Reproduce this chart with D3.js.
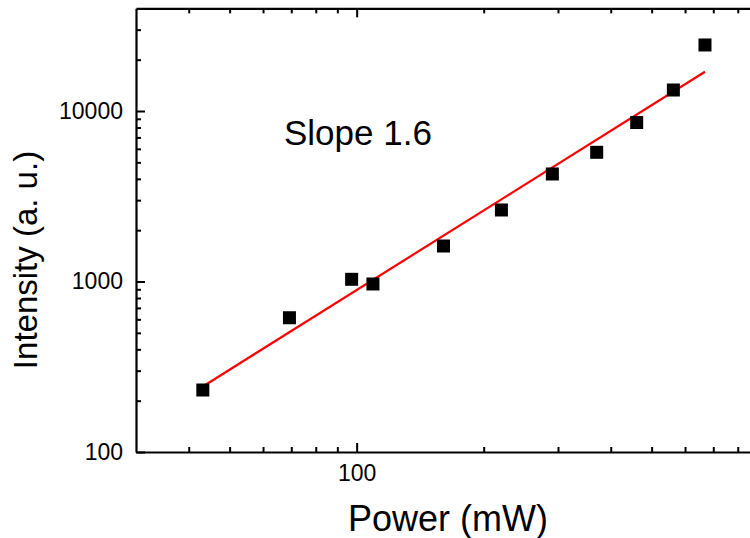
<!DOCTYPE html>
<html>
<head>
<meta charset="utf-8">
<script src="https://cdn.jsdelivr.net/npm/d3@7"></script>
<style>
  body { margin: 0; background: #fff; }
  svg { display: block; font-family: Arial, "Liberation Sans", sans-serif; }
  .domain { stroke: #000; stroke-width: 2.2px; }
  .tick line { stroke: #000; stroke-width: 2px; }
</style>
</head>
<body>
<svg width="750" height="538"></svg>
<script>
// measured points
let power = [43.2, 69.3, 97.3, 109.3, 160.6, 220.3, 290.9, 370.5, 460.9, 563, 669];
let intensity = [231, 613, 1030, 967, 1615, 2627, 4272, 5725, 8561, 13280, 24390];

// fitted line ends
let fitPower = [43.4, 669];
let fitIntensity = [244, 17000];

let xMajor = [100];
let xMinor = [40, 50, 60, 70, 80, 90, 200, 300, 400, 500, 600, 700, 800];
let yMajor = [100, 1000, 10000];
let yMinor = [200, 300, 400, 500, 600, 700, 800, 900,
              2000, 3000, 4000, 5000, 6000, 7000, 8000, 9000, 20000, 30000];

let svg = d3.select('svg');
let plotLeft = 136, plotBottom = 452;

let xScale = d3.scaleLog()
    .domain([30, 900])
    .range([plotLeft, plotLeft + 422 * Math.log10(900 / 30)]);

let yScale = d3.scaleLog()
    .domain([100, 40000])
    .range([plotBottom, plotBottom - 170.5 * Math.log10(400)]);

let plotRight = xScale.range()[1];
let plotTop = yScale.range()[1];

let createAxes = () => {
    let fmt = d3.format('d');

    // bottom
    svg.append('g')
       .attr('transform', 'translate(0,' + plotBottom + ')')
       .call(d3.axisBottom(xScale).tickValues(xMajor).tickFormat(fmt).tickSizeInner(-9).tickSizeOuter(0).tickPadding(13))
       .call(g => g.selectAll('text').attr('font-size', 23).attr('fill', '#000'));
    svg.append('g')
       .attr('transform', 'translate(0,' + plotBottom + ')')
       .call(d3.axisBottom(xScale).tickValues(xMinor).tickFormat('').tickSizeInner(-5).tickSizeOuter(0))
       .call(g => g.select('.domain').remove());

    // top (mirror, no labels)
    svg.append('g')
       .attr('transform', 'translate(0,' + plotTop + ')')
       .call(d3.axisTop(xScale).tickValues(xMajor).tickFormat('').tickSizeInner(-9).tickSizeOuter(0));
    svg.append('g')
       .attr('transform', 'translate(0,' + plotTop + ')')
       .call(d3.axisTop(xScale).tickValues(xMinor).tickFormat('').tickSizeInner(-5).tickSizeOuter(0))
       .call(g => g.select('.domain').remove());

    // left
    svg.append('g')
       .attr('transform', 'translate(' + plotLeft + ',0)')
       .call(d3.axisLeft(yScale).tickValues(yMajor).tickFormat(fmt).tickSizeInner(-9).tickSizeOuter(0).tickPadding(13))
       .call(g => g.selectAll('text').attr('font-size', 23).attr('fill', '#000'));
    svg.append('g')
       .attr('transform', 'translate(' + plotLeft + ',0)')
       .call(d3.axisLeft(yScale).tickValues(yMinor).tickFormat('').tickSizeInner(-5).tickSizeOuter(0))
       .call(g => g.select('.domain').remove());

    // right (mostly out of view)
    svg.append('g')
       .attr('transform', 'translate(' + plotRight + ',0)')
       .call(d3.axisRight(yScale).tickValues(yMajor).tickFormat('').tickSizeInner(-9).tickSizeOuter(0));

    svg.append('text')
       .attr('x', 448).attr('y', 531)
       .attr('text-anchor', 'middle')
       .attr('font-size', 36)
       .text('Power (mW)');

    svg.append('text')
       .attr('transform', 'translate(37,260) rotate(-90)')
       .attr('text-anchor', 'middle')
       .attr('font-size', 33)
       .text('Intensity (a. u.)');
}

let createMarks = () => {
    let line = d3.line()
        .x(d => xScale(d[0]))
        .y(d => yScale(d[1]));

    svg.append('path')
       .datum(fitPower.map((p, i) => [p, fitIntensity[i]]))
       .attr('d', line)
       .attr('fill', 'none')
       .attr('stroke', '#ff0000')
       .attr('stroke-width', 2.2);

    let s = 13;
    svg.selectAll('.pt')
       .data(power.map((p, i) => [p, intensity[i]]))
       .enter()
       .append('rect')
       .attr('class', 'pt')
       .attr('x', d => xScale(d[0]) - s / 2)
       .attr('y', d => yScale(d[1]) - s / 2)
       .attr('width', s)
       .attr('height', s)
       .attr('fill', '#000');

    svg.append('text')
       .attr('x', 284).attr('y', 145)
       .attr('font-size', 35)
       .text('Slope 1.6');
}

createAxes();
createMarks();
</script>
</body>
</html>
